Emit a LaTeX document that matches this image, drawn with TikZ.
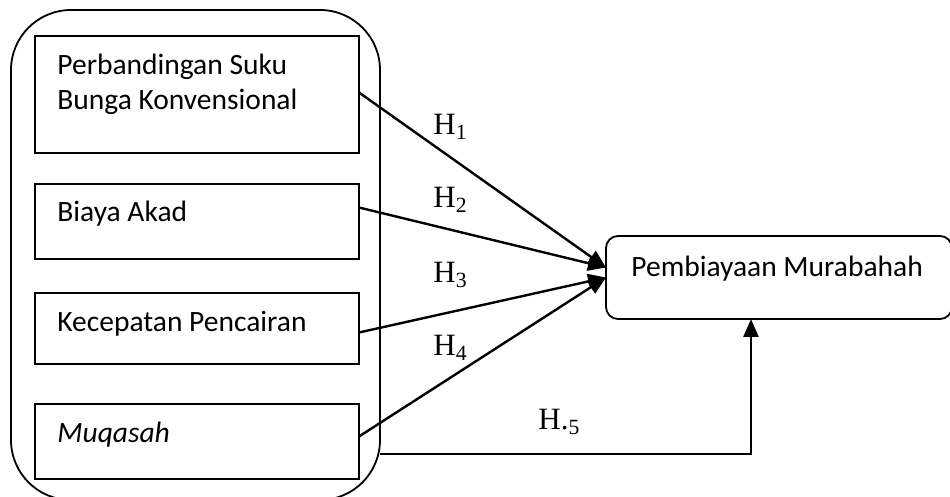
\documentclass[tikz,border=0pt]{standalone}
\usepackage{fontspec}
\setmainfont{Liberation Serif}
\newfontfamily\calibri{Carlito}
\usetikzlibrary{arrows.meta,calc}

\tikzset{
    varbox/.style={draw, rectangle, line width=0.9pt, inner sep=0pt, outer sep=0pt,
                   minimum width=162pt},
    vartext/.style={inner sep=0pt, align=left, anchor=base west,
                    font=\calibri\fontsize{14.75}{17.5}\selectfont},
    hyp/.style={inner sep=0pt, anchor=base west, font=\fontsize{15.5}{18}\selectfont},
    arr/.style={line width=1.2pt, -{Triangle[length=9pt,width=7.5pt]}},
}

\begin{document}
\begin{tikzpicture}[x=0.5pt, y=-0.5pt]
    \useasboundingbox (0,0) rectangle (950,497);

    % Outer group
    \node[draw, rectangle, rounded corners=30pt, line width=0.9pt, inner sep=0pt,
          outer sep=0pt, minimum width=184.5pt, minimum height=245pt] (grp) at (195.5,255) {};

    % Independent variables
    \node[varbox, minimum height=58.5pt] (b1) at (197,94.5) {};
    \node[varbox, minimum height=37.5pt] (b2) at (197,221.5) {};
    \node[varbox, minimum height=35.5pt] (b3) at (197,328.5) {};
    \node[varbox, minimum height=37.5pt] (b4) at (197,441.5) {};

    \node[vartext] (t1) at (57,110) {Perbandingan Suku\\Bunga Konvensional};
    \node[vartext] (t2) at (57,222) {Biaya Akad};
    \node[vartext] (t3) at (57,332) {Kecepatan Pencairan};
    \node[vartext] (t4) at (57,443) {\itshape Muqasah};

    % Dependent variable
    \node[draw, rectangle, rounded corners=6pt, line width=0.9pt, inner sep=0pt,
          outer sep=0pt, minimum width=173pt, minimum height=41.5pt] (pm) at (779,277.5) {};
    \node[vartext] (tpm) at (631,277) {Pembiayaan Murabahah};

    % Arrows
    \coordinate (in12) at ($(pm.west)+(0,-10)$);
    \coordinate (in34) at ($(pm.west)+(0,0)$);
    \draw[arr] ($(b1.east)+(0,-2)$) -- (in12);
    \draw[arr] ($(b2.east)+(0,-14)$) -- (in12);
    \draw[arr] ($(b3.east)+(0,4)$) -- (in34);
    \draw[arr] ($(b4.east)+(0,-5)$) -- (in34);

    \coordinate (h5s) at ($(grp.south east)+(0,-46)$);
    \coordinate (h5t) at ($(pm.south west)+(145,0)$);
    \draw[arr] (h5s) -| (h5t);

    % Hypothesis labels
    \foreach \i/\yy in {1/135,2/208,3/283,4/356}
        \node[hyp] (h\i) at (433,\yy) {H\textsubscript{\i}};
    \node[hyp] (h5) at (538,430) {H.\textsubscript{5}};

\end{tikzpicture}
\end{document}
